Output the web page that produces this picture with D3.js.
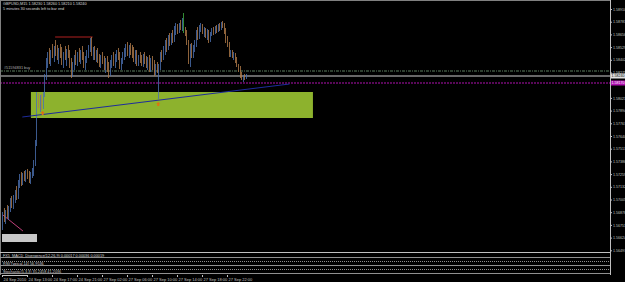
<!DOCTYPE html>
<html>
<head>
<meta charset="utf-8">
<script src="https://cdn.jsdelivr.net/npm/d3@7"></script>
<style>
  html, body { margin: 0; padding: 0; background: #000; }
  svg { display: block; }
  text { font-family: "Liberation Sans", Arial, sans-serif; }
</style>
</head>
<body>
<svg id="chart" width="625" height="282"></svg>
<script>
const symbol = 'GBPUSD,M15';
const countdown = '5 minutes 30 seconds left to bar end';

// [open, high, low, close] per 15 minute bar
const ohlc = [
  [1.5676,1.5688,1.5670,1.5684],[1.5684,1.5692,1.5678,1.5681],[1.5681,1.5690,1.5676,1.5688],[1.5688,1.5695,1.5682,1.5686],
  [1.5686,1.5694,1.5680,1.5692],[1.5692,1.5702,1.5688,1.5699],[1.5699,1.5704,1.5692,1.5695],[1.5695,1.5705,1.5691,1.5702],
  [1.5702,1.5710,1.5697,1.5706],[1.5706,1.5714,1.5700,1.5703],[1.5703,1.5720,1.5701,1.5717],[1.5717,1.5726,1.5712,1.5723],
  [1.5723,1.5728,1.5714,1.5718],[1.5718,1.5727,1.5715,1.5724],[1.5724,1.5729,1.5719,1.5722],[1.5722,1.5730,1.5718,1.5727],
  [1.5727,1.5731,1.5721,1.5724],[1.5724,1.5729,1.5717,1.5721],[1.5721,1.5728,1.5716,1.5726],[1.5726,1.5732,1.5722,1.5729],
  [1.5729,1.5740,1.5724,1.5737],[1.5737,1.5760,1.5734,1.5757],[1.5757,1.5808,1.5754,1.5804],[1.5804,1.5807,1.5792,1.5795],
  [1.5795,1.5805,1.5788,1.5801],[1.5801,1.5806,1.5790,1.5793],[1.5793,1.5808,1.5791,1.5806],[1.5806,1.5826,1.5803,1.5823],
  [1.5823,1.5842,1.5820,1.5839],[1.5839,1.5848,1.5832,1.5844],[1.5844,1.5852,1.5836,1.5840],[1.5840,1.5850,1.5834,1.5847],
  [1.5847,1.5856,1.5842,1.5845],[1.5845,1.5854,1.5838,1.5851],[1.5851,1.5860,1.5844,1.5848],[1.5848,1.5855,1.5840,1.5843],
  [1.5843,1.5852,1.5836,1.5850],[1.5850,1.5856,1.5842,1.5846],[1.5846,1.5853,1.5835,1.5838],[1.5838,1.5848,1.5832,1.5845],
  [1.5845,1.5854,1.5840,1.5842],[1.5842,1.5851,1.5834,1.5848],[1.5848,1.5855,1.5842,1.5844],[1.5844,1.5850,1.5832,1.5835],
  [1.5835,1.5842,1.5822,1.5826],[1.5826,1.5838,1.5823,1.5836],[1.5836,1.5845,1.5830,1.5842],[1.5842,1.5850,1.5835,1.5839],
  [1.5839,1.5848,1.5834,1.5846],[1.5846,1.5852,1.5838,1.5841],[1.5841,1.5850,1.5836,1.5848],[1.5848,1.5854,1.5840,1.5843],
  [1.5843,1.5848,1.5832,1.5836],[1.5836,1.5844,1.5830,1.5842],[1.5842,1.5850,1.5837,1.5847],[1.5847,1.5855,1.5842,1.5852],
  [1.5852,1.5862,1.5848,1.5859],[1.5859,1.5863,1.5844,1.5847],[1.5847,1.5853,1.5840,1.5850],[1.5850,1.5854,1.5840,1.5843],
  [1.5843,1.5850,1.5838,1.5846],[1.5846,1.5852,1.5837,1.5840],[1.5840,1.5846,1.5833,1.5837],[1.5837,1.5845,1.5832,1.5843],
  [1.5843,1.5848,1.5836,1.5839],[1.5839,1.5844,1.5830,1.5834],[1.5834,1.5842,1.5827,1.5840],[1.5840,1.5844,1.5828,1.5830],
  [1.5830,1.5838,1.5822,1.5826],[1.5826,1.5840,1.5824,1.5837],[1.5837,1.5845,1.5832,1.5842],[1.5842,1.5848,1.5834,1.5838],
  [1.5838,1.5846,1.5832,1.5843],[1.5843,1.5850,1.5838,1.5845],[1.5845,1.5852,1.5840,1.5843],[1.5843,1.5848,1.5831,1.5834],
  [1.5834,1.5842,1.5830,1.5840],[1.5840,1.5848,1.5836,1.5845],[1.5845,1.5852,1.5840,1.5848],[1.5848,1.5856,1.5843,1.5853],
  [1.5853,1.5858,1.5844,1.5847],[1.5847,1.5855,1.5842,1.5852],[1.5852,1.5857,1.5845,1.5849],[1.5849,1.5855,1.5842,1.5846],
  [1.5846,1.5853,1.5838,1.5842],[1.5842,1.5850,1.5836,1.5846],[1.5846,1.5850,1.5834,1.5838],[1.5838,1.5845,1.5834,1.5842],
  [1.5842,1.5848,1.5837,1.5840],[1.5840,1.5845,1.5834,1.5837],[1.5837,1.5846,1.5833,1.5843],[1.5843,1.5848,1.5836,1.5839],
  [1.5839,1.5844,1.5832,1.5835],[1.5835,1.5843,1.5830,1.5840],[1.5840,1.5845,1.5828,1.5831],[1.5831,1.5842,1.5828,1.5839],
  [1.5839,1.5844,1.5830,1.5834],[1.5834,1.5840,1.5824,1.5828],[1.5828,1.5836,1.5825,1.5833],[1.5833,1.5838,1.5827,1.5830],
  [1.5830,1.5836,1.5801,1.5834],[1.5834,1.5848,1.5830,1.5845],[1.5845,1.5850,1.5838,1.5842],[1.5842,1.5854,1.5840,1.5851],
  [1.5851,1.5860,1.5845,1.5856],[1.5856,1.5862,1.5848,1.5852],[1.5852,1.5865,1.5850,1.5862],[1.5862,1.5867,1.5854,1.5858],
  [1.5858,1.5867,1.5855,1.5864],[1.5864,1.5870,1.5857,1.5860],[1.5860,1.5874,1.5858,1.5871],[1.5871,1.5877,1.5865,1.5873],
  [1.5873,1.5876,1.5866,1.5869],[1.5869,1.5877,1.5867,1.5875],[1.5875,1.5880,1.5870,1.5872],[1.5872,1.5882,1.5869,1.5878],
  [1.5878,1.5887,1.5867,1.5870],[1.5870,1.5873,1.5864,1.5867],[1.5867,1.5870,1.5855,1.5858],[1.5858,1.5860,1.5836,1.5840],
  [1.5840,1.5856,1.5833,1.5853],[1.5853,1.5857,1.5842,1.5845],[1.5845,1.5855,1.5842,1.5852],[1.5852,1.5860,1.5848,1.5857],
  [1.5857,1.5870,1.5853,1.5867],[1.5867,1.5873,1.5860,1.5863],[1.5863,1.5875,1.5861,1.5872],[1.5872,1.5877,1.5868,1.5874],
  [1.5874,1.5876,1.5866,1.5869],[1.5869,1.5873,1.5863,1.5870],[1.5870,1.5872,1.5862,1.5865],[1.5865,1.5871,1.5860,1.5867],
  [1.5867,1.5870,1.5857,1.5859],[1.5859,1.5868,1.5858,1.5866],[1.5866,1.5872,1.5864,1.5869],[1.5869,1.5873,1.5865,1.5867],
  [1.5867,1.5874,1.5866,1.5872],[1.5872,1.5875,1.5867,1.5870],[1.5870,1.5876,1.5868,1.5874],[1.5874,1.5877,1.5869,1.5871],
  [1.5871,1.5878,1.5870,1.5876],[1.5876,1.5879,1.5872,1.5874],[1.5874,1.5877,1.5866,1.5868],[1.5868,1.5872,1.5857,1.5860],
  [1.5860,1.5864,1.5853,1.5856],[1.5856,1.5858,1.5843,1.5846],[1.5846,1.5850,1.5843,1.5848],[1.5848,1.5850,1.5842,1.5844],
  [1.5844,1.5848,1.5840,1.5845],[1.5845,1.5847,1.5837,1.5839],[1.5839,1.5843,1.5833,1.5835],[1.5835,1.5836,1.5828,1.5830],
  [1.5830,1.5834,1.5822,1.5824],[1.5824,1.5828,1.5820,1.5822],[1.5822,1.5825,1.5818,1.5824],[1.5824,1.5826,1.5820,1.5823],
  [1.5823,1.5826,1.5821,1.5824]
];
const peakBar = 116;

const priceTicks = [1.58910, 1.58783, 1.58656, 1.58529, 1.58402, 1.58275, 1.58148, 1.58021, 1.57894, 1.57767,
  1.57640, 1.57513, 1.57386, 1.57259, 1.57132, 1.57005, 1.56878, 1.56751, 1.56624, 1.56497];
const timeTickBars = [0, 16, 32, 48, 64, 80, 96, 112, 128, 144];
const timeLabels = ['24 Sep 2010', '24 Sep 13:00', '24 Sep 17:00', '24 Sep 21:00', '27 Sep 02:00',
  '27 Sep 06:00', '27 Sep 10:00', '27 Sep 14:00', '27 Sep 18:00', '27 Sep 22:00'];

// chart objects
const buyLevel = 1.5829;
const buyLabel = '#51594831 buy';
const alertLevel = 1.5817;
const zoneBars = [18.5, 199];
const zonePrices = [1.5808, 1.5782];
const trendBars = [13, 184];
const trendPrices = [1.5783, 1.5816];
const resistBars = [34, 58];
const resistPrice = 1.5863;
const diagBars = [0.6, 13.4];
const diagPrices = [1.5685, 1.5669];
const arrowBars = [26, 100];
const arrowPrices = [1.5787, 1.5796];
const boxBars = [0, 22.4];
const boxPrices = [1.5666, 1.5658];

const indicatorTitles = [
  'FX5_MACD_Divergence(12,26,9) 0.00017 0.00036 0.00019',
  'RSI(Typical,14) 56.9536',
  'Stochastic(5,3,3) 35.2458 41.2036'
];

const W = 625, H = 282;
const plotRight = 610, mainBottom = 252;
const panes = [[252, 257], [257, 265], [265, 273]];
const axisY = 275;
const fmt = d3.format('.5f');

const svg = d3.select('#chart');
svg.append('rect').attr('width', W).attr('height', H).attr('fill', '#000');

const x = d3.scaleLinear().domain([0, 16]).range([2, 27]);
const y = d3.scaleLinear().domain([1.5900, 1.5648]).range([0, mainBottom]);

// green zone rectangle (background object)
svg.append('rect')
  .attr('x', x(zoneBars[0])).attr('y', y(zonePrices[0]))
  .attr('width', x(zoneBars[1]) - x(zoneBars[0]))
  .attr('height', y(zonePrices[1]) - y(zonePrices[0]))
  .attr('fill', '#8db22d');

// gray label box
svg.append('rect')
  .attr('x', x(boxBars[0])).attr('y', y(boxPrices[0]))
  .attr('width', x(boxBars[1]) - x(boxBars[0]))
  .attr('height', y(boxPrices[1]) - y(boxPrices[0]))
  .attr('fill', '#c8c8c8');

// horizontal levels
svg.append('line')
  .attr('x1', 0).attr('x2', plotRight).attr('y1', y(buyLevel)).attr('y2', y(buyLevel))
  .attr('stroke', '#5f8060').attr('stroke-dasharray', '3,1,1,1');
svg.append('text')
  .attr('x', 4).attr('y', y(buyLevel) - 2)
  .attr('fill', '#b0b0b0').attr('font-size', 3.8).text(buyLabel);

const last = ohlc[ohlc.length - 1];
svg.append('line')
  .attr('x1', 0).attr('x2', plotRight).attr('y1', y(last[3])).attr('y2', y(last[3]))
  .attr('stroke', '#d0d0d0');
svg.append('line')
  .attr('x1', 0).attr('x2', plotRight).attr('y1', y(alertLevel)).attr('y2', y(alertLevel))
  .attr('stroke', '#b010b0').attr('stroke-dasharray', '2,1');

// resistance segment and diagonal
svg.append('line')
  .attr('x1', x(resistBars[0])).attr('x2', x(resistBars[1]))
  .attr('y1', y(resistPrice)).attr('y2', y(resistPrice))
  .attr('stroke', '#b02020');
svg.append('line')
  .attr('x1', x(diagBars[0])).attr('x2', x(diagBars[1]))
  .attr('y1', y(diagPrices[0])).attr('y2', y(diagPrices[1]))
  .attr('stroke', '#c0407a');

// bars
svg.append('g').selectAll('line')
  .data(ohlc)
  .join('line')
  .attr('x1', (d, i) => Math.round(x(i)) + 0.5)
  .attr('x2', (d, i) => Math.round(x(i)) + 0.5)
  .attr('y1', (d) => y(d[1]))
  .attr('y2', (d) => y(d[2]))
  .attr('stroke-opacity', 0.8)
  .attr('stroke', (d, i) => i === peakBar ? '#3fae3f' : (d[3] >= d[0] ? '#4a6fb0' : '#b07a48'));

// trend line
svg.append('line')
  .attr('x1', x(trendBars[0])).attr('x2', x(trendBars[1]))
  .attr('y1', y(trendPrices[0])).attr('y2', y(trendPrices[1]))
  .attr('stroke', '#1e2c9c');

// arrows
arrowBars.forEach((b, i) => {
  const ax = x(b), ay = y(arrowPrices[i]);
  svg.append('path')
    .attr('d', `M${ax},${ay - 2} L${ax + 2},${ay} L${ax + 1},${ay} L${ax + 1},${ay + 2} L${ax - 1},${ay + 2} L${ax - 1},${ay} L${ax - 2},${ay} Z`)
    .attr('fill', '#e07010');
});

// header
svg.append('text').attr('x', 3).attr('y', 5).attr('fill', '#d8d8d8').attr('font-size', 3.8)
  .text(`${symbol}  ${last.map(fmt).join(' ')}`);
svg.append('text').attr('x', 3).attr('y', 9.5).attr('fill', '#d8d8d8').attr('font-size', 3.8)
  .text(countdown);

// frame and pane separators
svg.append('line').attr('x1', 0.5).attr('x2', 0.5).attr('y1', 0).attr('y2', axisY).attr('stroke', '#808080');
svg.append('line').attr('x1', 0).attr('x2', plotRight).attr('y1', 0.5).attr('y2', 0.5).attr('stroke', '#808080');
panes.forEach(([top, bottom], i) => {
  svg.append('line').attr('x1', 0).attr('x2', plotRight).attr('y1', top + 0.5).attr('y2', top + 0.5)
    .attr('stroke', i === 0 ? '#c0c0c0' : '#909090');
  if (i > 0) {
    const mid = Math.round((top + bottom) / 2) + 0.5;
    svg.append('line').attr('x1', 0).attr('x2', plotRight).attr('y1', mid).attr('y2', mid)
      .attr('stroke', '#909090').attr('stroke-dasharray', '1,1');
  }
  svg.append('text').attr('x', 3).attr('y', bottom - 0.5).attr('fill', '#d0d0d0').attr('font-size', 3.8)
    .text(indicatorTitles[i]);
});
svg.append('line').attr('x1', 0).attr('x2', plotRight).attr('y1', 273.5).attr('y2', 273.5).attr('stroke', '#909090');

// price axis (ticks hidden under the price boxes are skipped, as the terminal does)
const boxedPrices = [last[3], alertLevel];
const shownTicks = priceTicks.filter((t) => boxedPrices.every((p) => Math.abs(y(t) - y(p)) > 3));
const yAxis = svg.append('g')
  .attr('transform', `translate(${plotRight},0)`)
  .call(d3.axisRight(y).tickValues(shownTicks).tickSize(2).tickPadding(1).tickFormat(fmt));
yAxis.select('.domain').remove();
yAxis.selectAll('line').attr('stroke', '#c0c0c0');
yAxis.selectAll('text').attr('fill', '#c0c0c0').attr('font-size', 3.6).attr('font-family', '"Liberation Sans", Arial, sans-serif');
svg.append('line').attr('x1', plotRight + 0.5).attr('x2', plotRight + 0.5).attr('y1', 0).attr('y2', axisY)
  .attr('stroke', '#c0c0c0');

// current price labels
[[last[3], '#e0e0e0', '#000'], [alertLevel, '#b010b0', '#fff']].forEach(([p, bg, fg]) => {
  svg.append('rect').attr('x', plotRight + 1).attr('y', y(p) - 2.5).attr('width', 14).attr('height', 5).attr('fill', bg);
  svg.append('text').attr('x', plotRight + 1.5).attr('y', y(p) + 1.4).attr('fill', fg).attr('font-size', 3.6)
    .text(fmt(p));
});

// time axis
const xAxis = svg.append('g')
  .attr('transform', `translate(0,${axisY})`)
  .call(d3.axisBottom(x).tickValues(timeTickBars).tickSize(2).tickPadding(1)
    .tickFormat((d, i) => timeLabels[i]));
xAxis.select('.domain').attr('stroke', '#c0c0c0');
xAxis.selectAll('line').attr('stroke', '#c0c0c0');
xAxis.selectAll('text').attr('fill', '#c0c0c0').attr('font-size', 4).attr('text-anchor', 'start')
  .attr('dx', 1).attr('font-family', '"Liberation Sans", Arial, sans-serif');
</script>
</body>
</html>
